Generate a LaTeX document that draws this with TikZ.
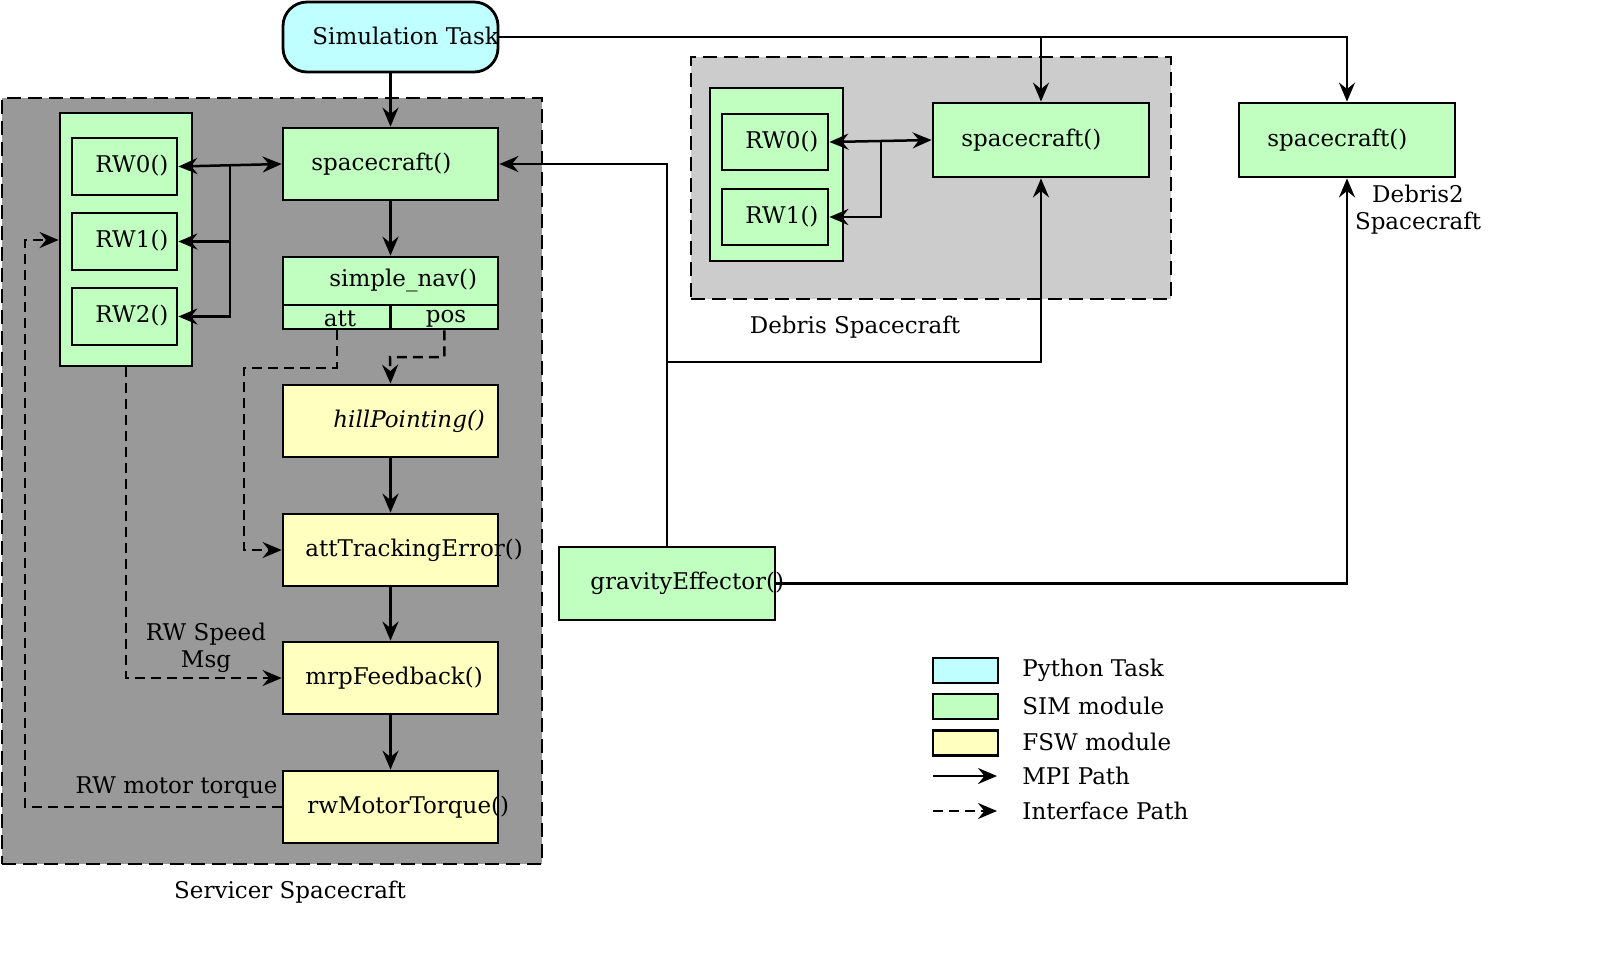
\documentclass[tikz,border=0pt]{standalone}
\usepackage{fontspec}
\setmainfont{DejaVu Serif}
\usetikzlibrary{arrows.meta}
\definecolor{simgreen}{HTML}{C0FFC0}
\definecolor{fswyellow}{HTML}{FFFFC0}
\definecolor{pycyan}{HTML}{C0FFFF}
\definecolor{dkgray}{HTML}{999999}
\definecolor{ltgray}{HTML}{CCCCCC}
\begin{document}
\begin{tikzpicture}[x=0.5pt,y=-0.5pt,
  font=\fontsize{11.5}{13.5}\selectfont,
  >={Stealth[length=9.5pt,width=8pt,inset=3.2pt]},
  modbox/.style={draw, line width=1.4pt, inner sep=0pt},
  sim/.style={modbox, fill=simgreen},
  fsw/.style={modbox, fill=fswyellow},
  pyt/.style={modbox, fill=pycyan, rounded corners=12pt},
  grp/.style={draw, line width=1.4pt, dash pattern=on 7pt off 3.5pt, inner sep=0pt},
  lbl/.style={inner sep=0pt, anchor=west},
  caplbl/.style={inner sep=0pt, align=center},
  mpi/.style={line width=1.25pt},
  ifc/.style={line width=1.25pt, dash pattern=on 5pt off 3pt}]
\useasboundingbox (0,0) rectangle (1600,966);

% group backgrounds
\node[grp, fill=dkgray, minimum width=270pt, minimum height=383pt] (serv) at (272,481) {};
\node[grp, fill=ltgray, minimum width=240pt, minimum height=121pt] (deb) at (931,178) {};
\node[caplbl] (servlbl) at (290,892) {Servicer Spacecraft};
\node[caplbl] (deblbl) at (855,327) {Debris Spacecraft};
\node[caplbl] (deb2lbl) at (1418,210) {Debris2\\Spacecraft};

% simulation task
\node[pyt, minimum width=107.5pt, minimum height=35pt] (sim) at (390.5,37) {};
\node[lbl] (simt) at (312,36) {Simulation Task};

% servicer RW group
\node[sim, minimum width=66pt, minimum height=126.5pt] (rwg) at (126,239.5) {};
\node[sim, minimum width=52.5pt, minimum height=28.5pt] (rw0) at (124.5,166.5) {};
\node[sim, minimum width=52.5pt, minimum height=28.5pt] (rw1) at (124.5,241.5) {};
\node[sim, minimum width=52.5pt, minimum height=28.5pt] (rw2) at (124.5,316.5) {};
\node[lbl] (rw0t) at (95,166) {RW0()};
\node[lbl] (rw1t) at (95,241) {RW1()};
\node[lbl] (rw2t) at (95,316) {RW2()};

% servicer modules
\node[sim, minimum width=107.5pt, minimum height=36pt] (sc) at (390.5,164) {};
\node[lbl] (sct) at (311,164) {spacecraft()};
\node[sim, minimum width=107.5pt, minimum height=24pt] (nav) at (390.5,281) {};
\node[lbl] (navt) at (329,280) {simple\_nav()};
\node[sim, minimum width=53.75pt, minimum height=12pt] (attc) at (336.75,317) {};
\node[sim, minimum width=53.75pt, minimum height=12pt] (posc) at (444.25,317) {};
\node[caplbl] (attt) at (340,319) {att};
\node[caplbl] (post) at (446,319) {pos};
\node[fsw, minimum width=107.5pt, minimum height=36pt] (hill) at (390.5,421) {};
\node[lbl] (hillt) at (333,421) {\itshape hillPointing()};
\node[fsw, minimum width=107.5pt, minimum height=36pt] (atte) at (390.5,550) {};
\node[lbl] (attet) at (305,550) {attTrackingError()};
\node[fsw, minimum width=107.5pt, minimum height=36pt] (mrp) at (390.5,678) {};
\node[lbl] (mrpt) at (305,678) {mrpFeedback()};
\node[fsw, minimum width=107.5pt, minimum height=36pt] (rwm) at (390.5,807) {};
\node[lbl] (rwmt) at (307,807) {rwMotorTorque()};
\node[caplbl] (spdlbl) at (206,648) {RW Speed\\Msg};
\node[inner sep=0pt, anchor=east] (trqlbl) at (278,787) {RW motor torque};

% gravity
\node[sim, minimum width=108pt, minimum height=36.5pt] (grav) at (667,583.5) {};
\node[lbl] (gravt) at (590,583) {gravityEffector()};

% debris
\node[sim, minimum width=66.5pt, minimum height=86.5pt] (drwg) at (776.5,174.5) {};
\node[sim, minimum width=53pt, minimum height=28pt] (drw0) at (775,142) {};
\node[sim, minimum width=53pt, minimum height=28pt] (drw1) at (775,217) {};
\node[lbl] (drw0t) at (745,142) {RW0()};
\node[lbl] (drw1t) at (745,217) {RW1()};
\node[sim, minimum width=108pt, minimum height=37pt] (dsc) at (1041,140) {};
\node[lbl] (dsct) at (961,140) {spacecraft()};

% debris2
\node[sim, minimum width=108pt, minimum height=37pt] (d2sc) at (1347,140) {};
\node[lbl] (d2sct) at (1267,140) {spacecraft()};

% servicer connectors
\draw[mpi,->] (sim.south) -- (sc.north);
\draw[mpi,->] (sc.south) -- (nav.north);
\draw[mpi,->] (hill.south) -- (atte.north);
\draw[mpi,->] (atte.south) -- (mrp.north);
\draw[mpi,->] (mrp.south) -- (rwm.north);
\draw[mpi,<->] (rw0.east) -- (sc.west);
\coordinate (j1) at (230,166);
\draw[mpi,->] (j1) |- (rw2.east);
\draw[mpi,->] (j1 |- rw1.east) -- (rw1.east);
\draw[ifc,->] (attc.south) |- (244,368) |- (atte.west);
\draw[ifc,->] (posc.south) |- (390,357) -- (hill.north);
\draw[ifc,->] (rwg.south) |- (mrp.west);
\coordinate (mt) at (25,240);
\draw[ifc,->] (rwm.west) -| (mt) -- (mt -| rwg.west);

% debris connectors
\draw[mpi,<->] (drw0.east) -- (dsc.west);
\coordinate (j2) at (881,141);
\draw[mpi,->] (j2) |- (drw1.east);

% inter-spacecraft connectors
\draw[mpi,->] (grav.north) |- (sc.east);
\draw[mpi,->] (grav.north |- 0,362) -| (dsc.south);
\draw[mpi,->] (grav.east) -| (d2sc.south);
\draw[mpi,->] (sim.east) -| (d2sc.north);
\draw[mpi,->] (sim.east -| dsc.north) -- (dsc.north);

% legend
\node[modbox, fill=pycyan, minimum width=32.5pt, minimum height=12.5pt] (lg1) at (965.5,670.5) {};
\node[modbox, fill=simgreen, minimum width=32.5pt, minimum height=12.5pt] (lg2) at (965.5,706.5) {};
\node[modbox, fill=fswyellow, minimum width=32.5pt, minimum height=12.5pt] (lg3) at (965.5,743) {};
\coordinate (lg4a) at (933,776);
\coordinate (lg4b) at (997,776);
\coordinate (lg5a) at (933,811);
\coordinate (lg5b) at (997,811);
\draw[mpi,->] (lg4a) -- (lg4b);
\draw[ifc,->] (lg5a) -- (lg5b);
\node[lbl] (lg1t) at (1022,670) {Python Task};
\node[lbl] (lg2t) at (1022,706) {SIM module};
\node[lbl] (lg3t) at (1022,742) {FSW module};
\node[lbl] (lg4t) at (1022,776) {MPI Path};
\node[lbl] (lg5t) at (1022,811) {Interface Path};
\end{tikzpicture}
\end{document}
